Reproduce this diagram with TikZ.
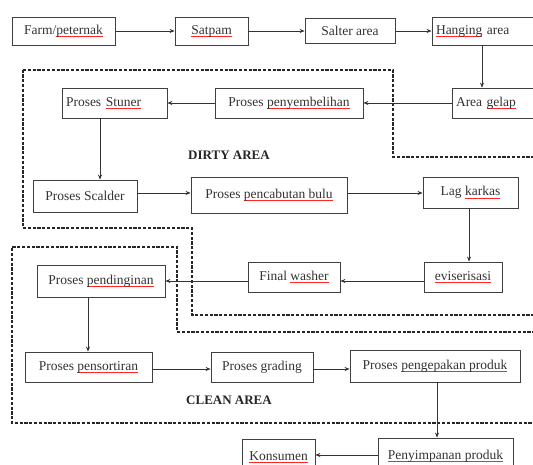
\documentclass[tikz,border=0pt]{standalone}
\usepackage{fontspec}
\setmainfont{Liberation Serif}
\usetikzlibrary{arrows.meta}
\newsavebox\sqbox
\newcommand\sq[1]{\sbox\sqbox{#1}\leavevmode\rlap{\color{red!85}\rule[-2.4pt]{\wd\sqbox}{0.6pt}}\usebox\sqbox}
\tikzset{
  box/.style={draw=black!75, line width=0.8pt, fill=white, inner sep=2pt,
    font=\fontsize{13.5}{15}\selectfont, text=black!80},
  arr/.style={draw=black!80, line width=0.7pt, -{Stealth[length=5pt,width=4pt]}},
  area/.style={draw=black!85, line width=1.4pt, dash pattern=on 3.2pt off 1.6pt},
  lbl/.style={font=\fontsize{13}{15}\selectfont\bfseries, text=black!85}
}
\begin{document}
\begin{tikzpicture}[x=1pt,y=-1pt]
\useasboundingbox (0,0) rectangle (533,465);
\fill[white] (0,0) rectangle (533,465);
\clip (0,0) rectangle (533,465);
% areas
\draw[area] (23,70) -- (393,70) -- (393,157) -- (545,157) -- (545,315)
  -- (192,315) -- (192,228) -- (23,228) -- cycle;
\draw[area] (545,332) -- (177,332) -- (177,247) -- (12,247) -- (12,423) -- (545,423) -- cycle;
\node[lbl] (dirty) at (229,155) {DIRTY AREA};
\node[lbl] (clean) at (229,400) {CLEAN AREA};
% nodes
\node[box, minimum width=103pt, minimum height=28pt] (farm) at (63.5,31) {Farm/\sq{peternak}};
\node[box, minimum width=73pt, minimum height=28pt] (satpam) at (211.5,31) {\sq{Satpam}};
\node[box, minimum width=90pt, minimum height=25pt] (salter) at (350,30.5) {Salter area};
\node[box, minimum width=113pt, minimum height=28pt, text width=105pt, align=left] (hanging) at (488.5,31) {\sq{Hanging} area};
\node[box, minimum width=93pt, minimum height=30pt, text width=85pt, align=left] (gelap) at (498.5,103) {Area \sq{gelap}};
\node[box, minimum width=148pt, minimum height=30pt] (sembelih) at (289,103) {Proses \sq{penyembelihan}};
\node[box, minimum width=105pt, minimum height=30pt, text width=97pt, align=left] (stuner) at (114.5,103) {Proses \sq{Stuner}};
\node[box, minimum width=104pt, minimum height=32pt] (scalder) at (85,196) {Proses Scalder};
\node[box, minimum width=156pt, minimum height=36pt] (cabut) at (269,195) {Proses \sq{pencabutan bulu}};
\node[box, minimum width=95pt, minimum height=31pt] (lag) at (470.5,192.5) {Lag \sq{karkas}};
\node[box, minimum width=78pt, minimum height=30pt] (evis) at (463,277) {\sq{eviserisasi}};
\node[box, minimum width=92pt, minimum height=30pt] (final) at (294,277) {Final \sq{washer}};
\node[box, minimum width=128pt, minimum height=32pt] (dingin) at (101,281) {Proses \sq{pendinginan}};
\node[box, minimum width=127pt, minimum height=30pt] (sortir) at (88.5,367) {Proses \sq{pensortiran}};
\node[box, minimum width=102pt, minimum height=30pt] (grading) at (262,367) {Proses grading};
\node[box, minimum width=170pt, minimum height=32pt] (kemas) at (435,366) {Proses \sq{pengepakan produk}};
\node[box, minimum width=135pt, minimum height=36pt] (simpan) at (445.5,456) {\sq{Penyimpanan produk}};
\node[box, minimum width=73pt, minimum height=36pt] (konsumen) at (278.5,457) {\sq{Konsumen}};
% connectors
\draw[arr] (farm.east |- 0,31) -- (satpam.west |- 0,31);
\draw[arr] (satpam.east |- 0,31) -- (salter.west |- 0,31);
\draw[arr] (salter.east |- 0,31) -- (hanging.west |- 0,31);
\draw[arr] (hanging.south -| 482,0) -- (gelap.north -| 482,0);
\draw[arr] (gelap.west |- 0,103) -- (sembelih.east |- 0,103);
\draw[arr] (sembelih.west |- 0,103) -- (stuner.east |- 0,103);
\draw[arr] (stuner.south -| 100,0) -- (scalder.north -| 100,0);
\draw[arr] (scalder.east |- 0,193) -- (cabut.west |- 0,193);
\draw[arr] (cabut.east |- 0,193) -- (lag.west |- 0,193);
\draw[arr] (lag.south -| 469,0) -- (evis.north -| 469,0);
\draw[arr] (evis.west |- 0,281) -- (final.east |- 0,281);
\draw[arr] (final.west |- 0,281) -- (dingin.east |- 0,281);
\draw[arr] (dingin.south -| 88,0) -- (sortir.north -| 88,0);
\draw[arr] (sortir.east |- 0,369) -- (grading.west |- 0,369);
\draw[arr] (grading.east |- 0,369) -- (kemas.west |- 0,369);
\draw[arr] (kemas.south -| 437,0) -- (simpan.north -| 437,0);
\draw[arr] (simpan.west |- 0,455) -- (konsumen.east |- 0,455);
\end{tikzpicture}
\end{document}
